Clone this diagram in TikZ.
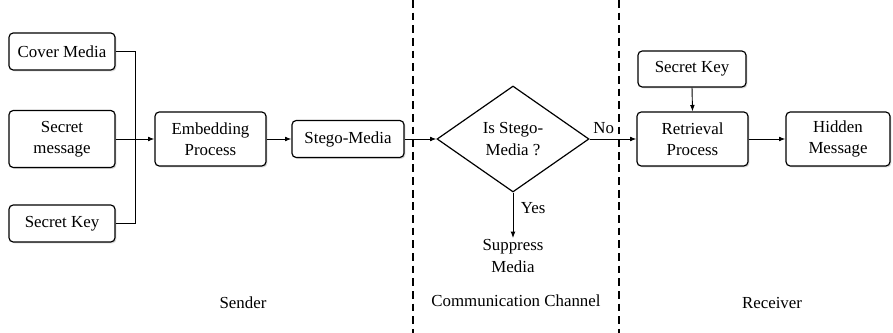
\documentclass[tikz,border=0pt]{standalone}
\usepackage{fontspec}
\setmainfont{LiberationSerif}[Extension=.ttf, UprightFont=*-Regular, BoldFont=*-Bold, ItalicFont=*-Italic]
\usepackage{tikz}
\usetikzlibrary{positioning, shapes, shadows, arrows.meta}

\begin{document}
\begin{tikzpicture}[
  >={Latex[length=1.6mm, width=1.2mm]},
  arr/.style={->, black, line width=0.65pt},
  cajita/.style={draw=black, fill=white, line width=0.85pt, rounded corners=3pt,
    align=center, inner sep=1pt,
    drop shadow={shadow xshift=1pt, shadow yshift=-1pt, fill=black!30}},
  decision/.style={diamond, draw=black, line width=0.85pt, inner sep=0pt, align=center},
  etiqueta/.style={align=center},
  divisor/.style={black, line width=0.8pt, dash pattern=on 5.5pt off 3.5pt},
  every node/.style={font=\rmfamily\fontsize{12}{15}\selectfont}
]
  \useasboundingbox (0, 0) rectangle (22.325, -8.325);

  % --- Emisor: entradas ---
  \node[cajita, minimum width=2.65cm, minimum height=0.925cm] (cover) at (1.55, -1.2875) {Cover Media};
  \node[cajita, minimum width=2.65cm, minimum height=1.425cm] (msg)   at (1.55, -3.475)  {Secret\\message};
  \node[cajita, minimum width=2.65cm, minimum height=0.925cm] (key)   at (1.55, -5.5875) {Secret Key};
  \coordinate (junta) at (3.375, -3.475);

  % --- Emisor: proceso ---
  \node[cajita, minimum width=2.775cm, minimum height=1.35cm] (embed) at (5.2625, -3.475) {Embedding\\Process};
  \node[cajita, minimum width=2.8cm, minimum height=0.925cm]  (stego) at (8.7, -3.475)    {Stego-Media};

  % --- Canal ---
  \node[decision, minimum width=3.8cm, minimum height=2.65cm] (check) at (12.825, -3.475) {Is Stego-\\Media ?};
  \node[etiqueta, inner sep=1pt] (supp) at (12.825, -6.4) {Suppress\\Media};

  % --- Receptor ---
  \node[cajita, minimum width=2.7cm, minimum height=0.9cm]    (rkey)   at (17.3, -1.725)    {Secret Key};
  \node[cajita, minimum width=2.775cm, minimum height=1.35cm] (retr)   at (17.3125, -3.475) {Retrieval\\Process};
  \node[cajita, minimum width=2.6cm, minimum height=1.35cm]   (hidden) at (20.95, -3.475)   {Hidden\\Message};

  % --- Separadores ---
  \coordinate (s1top) at (10.325, 0);
  \coordinate (s1bot) at (10.325, -8.325);
  \coordinate (s2top) at (15.475, 0);
  \coordinate (s2bot) at (15.475, -8.325);
  \draw[divisor] (s1top) -- (s1bot);
  \draw[divisor] (s2top) -- (s2bot);

  % --- Conectores ---
  \draw[line width=0.65pt] (cover.east) -| (junta);
  \draw[line width=0.65pt] (key.east) -| (junta);
  \draw[arr] (msg.east) -- (embed.west);
  \draw[arr] (embed.east) -- (stego.west);
  \draw[arr] (stego.east) -- (check.west);
  \draw[arr] (check.south) -- node[right, xshift=2pt, pos=0.35] (yes) {Yes} (supp.north);
  \draw[arr] (check.east) -- node[above, pos=0.3] (no) {No} (retr.west);
  \draw[arr] (rkey.south) -- (retr.north);
  \draw[arr] (retr.east) -- (hidden.west);

  % --- Zonas ---
  \node (sender)   at (6.075, -7.575) {Sender};
  \node (channel)  at (12.9, -7.525)  {Communication Channel};
  \node (receiver) at (19.3, -7.575)  {Receiver};
\end{tikzpicture}
\end{document}
